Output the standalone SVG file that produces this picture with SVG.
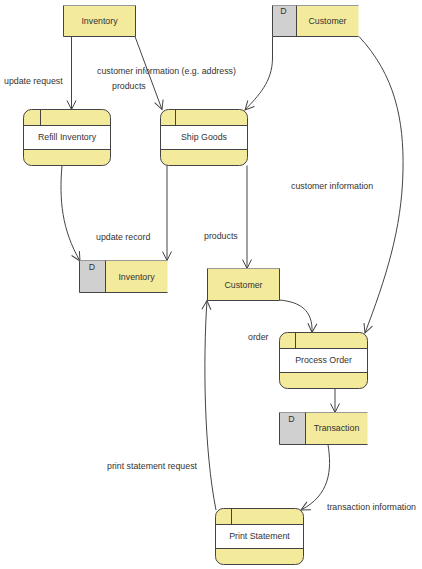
<svg xmlns="http://www.w3.org/2000/svg" width="422" height="569" viewBox="0 0 422 569">
<style>
text{font-family:"Liberation Sans",Arial,sans-serif;font-size:8.8px;fill:#333}
.c{text-anchor:middle}
.y{fill:#f4ea9c}
.g{fill:#d0d0d0}
.dk{stroke:#444;stroke-width:1;fill:none}
.lt{stroke:#999;stroke-width:1;fill:none}
.w{fill:#fff}
.conn path{stroke:#444;stroke-width:1;fill:none;marker-end:url(#arr)}
</style>
<defs>
<marker id="arr" markerUnits="userSpaceOnUse" markerWidth="12" markerHeight="12" viewBox="-10 -6 12 12" refX="0" refY="0" orient="auto" overflow="visible">
<path d="M-9,-4.5 L0,0 L-9,4.5" fill="none" stroke="#444" stroke-width="1"/>
</marker>
</defs>
<rect width="422" height="569" fill="#fff"/>

<g class="conn">
<path d="M71.5,36.5 L71.5,109.5"/>
<path d="M135,36.5 L162,109.5"/>
<path d="M272.5,36.5 L272.5,58 C272.5,82 258,96 245,110"/>
<path d="M359,36.5 C395,75 404,120 403,170 C402,230 385,280 365,333"/>
<path d="M62,165.5 C59,200 62,230 80,261"/>
<path d="M167,165.5 L167,260.5"/>
<path d="M247,165.5 L247,268.5"/>
<path d="M279.5,300 C300,302 313,310 312,332.5"/>
<path d="M335,388.5 L335,412.5"/>
<path d="M328,444.5 C332,470 330,495 301,510"/>
<path d="M216,510 C204,450 203,360 207,300.5"/>
</g>

<g id="labels">
<text x="4" y="84">update request</text>
<text x="97" y="74">customer information (e.g. address)</text>
<text x="112" y="89">products</text>
<text x="291" y="189">customer information</text>
<text x="96" y="240">update record</text>
<text x="204" y="239">products</text>
<text x="248" y="340">order</text>
<text x="107" y="469">print statement request</text>
<text x="327" y="510">transaction information</text>
</g>

<g id="ent-inventory">
<rect class="y" x="63.5" y="5.5" width="72" height="31"/>
<path class="lt" d="M63.5,5.5 H135.5"/>
<path class="dk" d="M63.5,5.5 V36.5 H135.5 V5.5"/>
<text class="c" x="99.5" y="24">Inventory</text>
</g>

<g id="store-customer">
<rect class="g" x="272.5" y="5.5" width="24" height="31"/>
<rect class="y" x="296.5" y="5.5" width="62" height="31"/>
<path class="lt" d="M272.5,5.5 H358.5"/>
<path class="dk" d="M272.5,5.5 V36.5 H358.5 M296.5,5.5 V36.5"/>
<text class="c" x="283.5" y="14">D</text>
<text class="c" x="327.5" y="24">Customer</text>
</g>

<g id="proc-refill">
<rect class="y" x="23.5" y="109.5" width="87" height="56" rx="8"/>
<rect class="w" x="23.5" y="125.5" width="87" height="24"/>
<path class="dk" d="M23.5,125.5 H110.5 M23.5,149.5 H110.5 M40.5,109.5 V125.5"/>
<rect class="dk" x="23.5" y="109.5" width="87" height="56" rx="8"/>
<text class="c" x="67" y="140">Refill Inventory</text>
</g>

<g id="proc-ship">
<rect class="y" x="160.5" y="109.5" width="87" height="56" rx="8"/>
<rect class="w" x="160.5" y="125.5" width="87" height="24"/>
<path class="dk" d="M160.5,125.5 H247.5 M160.5,149.5 H247.5 M175.5,109.5 V125.5"/>
<rect class="dk" x="160.5" y="109.5" width="87" height="56" rx="8"/>
<text class="c" x="204" y="140">Ship Goods</text>
</g>

<g id="store-inventory">
<rect class="g" x="79.5" y="260.5" width="26" height="32"/>
<rect class="y" x="105.5" y="260.5" width="62" height="32"/>
<path class="lt" d="M79.5,260.5 H167.5"/>
<path class="dk" d="M79.5,260.5 V292.5 H167.5 M105.5,260.5 V292.5"/>
<text class="c" x="92" y="269.5">D</text>
<text class="c" x="136.5" y="280">Inventory</text>
</g>

<g id="ent-customer">
<rect class="y" x="207.5" y="268.5" width="72" height="32"/>
<path class="lt" d="M207.5,268.5 H279.5"/>
<path class="dk" d="M207.5,268.5 V300.5 H279.5 V268.5"/>
<text class="c" x="243.5" y="288">Customer</text>
</g>

<g id="proc-order">
<rect class="y" x="279.5" y="332.5" width="88" height="56" rx="8"/>
<rect class="w" x="279.5" y="348.5" width="88" height="24"/>
<path class="dk" d="M279.5,348.5 H367.5 M279.5,372.5 H367.5 M295.5,332.5 V348.5"/>
<rect class="dk" x="279.5" y="332.5" width="88" height="56" rx="8"/>
<text class="c" x="323.5" y="363">Process Order</text>
</g>

<g id="store-transaction">
<rect class="g" x="279.5" y="412.5" width="26" height="32"/>
<rect class="y" x="305.5" y="412.5" width="62" height="32"/>
<path class="lt" d="M279.5,412.5 H367.5"/>
<path class="dk" d="M279.5,412.5 V444.5 H367.5 M305.5,412.5 V444.5"/>
<text class="c" x="291.5" y="421.5">D</text>
<text class="c" x="336.5" y="431">Transaction</text>
</g>

<g id="proc-print">
<rect class="y" x="215.5" y="508.5" width="88" height="56" rx="8"/>
<rect class="w" x="215.5" y="524.5" width="88" height="24"/>
<path class="dk" d="M215.5,524.5 H303.5 M215.5,548.5 H303.5 M231.5,508.5 V524.5"/>
<rect class="dk" x="215.5" y="508.5" width="88" height="56" rx="8"/>
<text class="c" x="259.5" y="539">Print Statement</text>
</g>
</svg>
